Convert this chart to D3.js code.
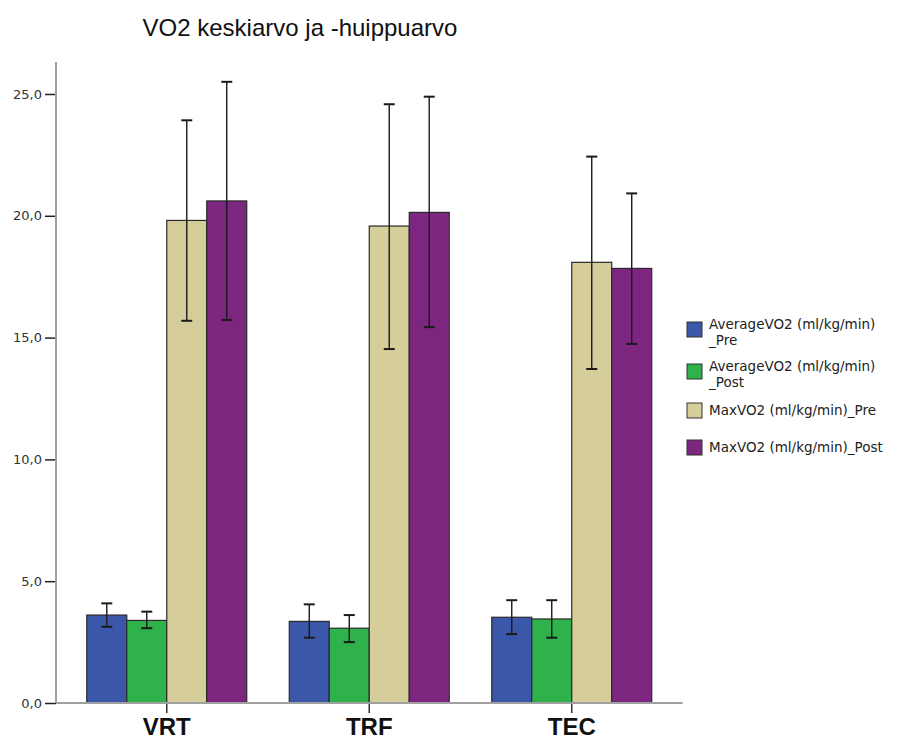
<!DOCTYPE html>
<html>
<head>
<meta charset="utf-8">
<script src="https://cdn.jsdelivr.net/npm/d3@7"></script>
<style>
  html, body { margin: 0; padding: 0; background: #fff; }
  svg { display: block; }
  text { font-family: "Liberation Sans", Arial, sans-serif; }
  text.small { font-family: "DejaVu Sans", sans-serif; }
</style>
</head>
<body>
<svg id="chart" width="902" height="740"></svg>
<script>
// Groups on the x axis
const categories = ["VRT", "TRF", "TEC"];

// Series names (legend lines) and fill colours
const seriesNames = [
  ["AverageVO2 (ml/kg/min)", "_Pre"],
  ["AverageVO2 (ml/kg/min)", "_Post"],
  ["MaxVO2 (ml/kg/min)_Pre"],
  ["MaxVO2 (ml/kg/min)_Post"]
];
const seriesColors = ["#3b57a9", "#2fb14b", "#d5ce9a", "#7d2680"];

// Means per series, one value per category (VRT, TRF, TEC)
const avgPre  = [3.61, 3.35, 3.52];
const avgPost = [3.39, 3.07, 3.45];
const maxPre  = [19.81, 19.58, 18.09];
const maxPost = [20.61, 20.14, 17.84];

// Error bar ends (lower, upper) per series and category
const avgPreLow   = [3.13, 2.68, 2.83];
const avgPreHigh  = [4.09, 4.05, 4.22];
const avgPostLow  = [3.07, 2.50, 2.68];
const avgPostHigh = [3.75, 3.61, 4.22];
const maxPreLow   = [15.69, 14.53, 13.71];
const maxPreHigh  = [23.92, 24.58, 22.43];
const maxPostLow  = [15.72, 15.43, 14.74];
const maxPostHigh = [25.50, 24.89, 20.92];

// Y axis ticks
const yTicks = [0, 5, 10, 15, 20, 25];

const means = [avgPre, avgPost, maxPre, maxPost];
const lows  = [avgPreLow, avgPostLow, maxPreLow, maxPostLow];
const highs = [avgPreHigh, avgPostHigh, maxPreHigh, maxPostHigh];

const rows = [];
categories.forEach((c, ci) => {
  means.forEach((s, si) => {
    rows.push({ cat: c, series: si, value: s[ci], low: lows[si][ci], high: highs[si][ci] });
  });
});

const svg = d3.select("#chart");

const plot = { left: 56, right: 682.5, top: 62, bottom: 703 };

const x = d3.scaleBand()
  .domain(categories)
  .range([plot.left, plot.right])
  .paddingInner(0.21)
  .paddingOuter(0.152);

const xs = d3.scaleBand()
  .domain(d3.range(seriesNames.length))
  .range([0, x.bandwidth()]);

const y = d3.scaleLinear()
  .domain([0, 25])
  .range([plot.bottom, plot.bottom - 25 * 24.36]);

// Title
svg.append("text")
  .attr("x", 300)
  .attr("y", 36)
  .attr("text-anchor", "middle")
  .attr("font-size", 24)
  .attr("fill", "#111")
  .text("VO2 keskiarvo ja -huippuarvo");

// Bars
const bars = svg.append("g");
bars.selectAll("rect")
  .data(rows)
  .join("rect")
  .attr("x", d => x(d.cat) + xs(d.series))
  .attr("y", d => y(d.value))
  .attr("width", xs.bandwidth())
  .attr("height", d => y(0) - y(d.value))
  .attr("fill", d => seriesColors[d.series])
  .attr("stroke", "#2a2a2a")
  .attr("stroke-width", 1.2);

// Y axis
const yAxis = d3.axisLeft(y)
  .tickValues(yTicks)
  .tickSize(11)
  .tickPadding(3)
  .tickFormat(d => d3.format(".1f")(d).replace(".", ","));

const yg = svg.append("g")
  .attr("transform", `translate(${plot.left},0)`)
  .call(yAxis);
yg.select(".domain").remove();
yg.selectAll(".tick line").attr("stroke", "#222").attr("stroke-width", 1.5);
yg.selectAll(".tick text")
  .classed("small", true)
  .attr("font-size", 13)
  .attr("fill", "#333");

svg.append("line")
  .attr("x1", plot.left).attr("x2", plot.left)
  .attr("y1", plot.top).attr("y2", plot.bottom)
  .attr("stroke", "#a0a0a0").attr("stroke-width", 2);

// X axis
const xAxis = d3.axisBottom(x).tickSize(10).tickPadding(5);
const xg = svg.append("g")
  .attr("transform", `translate(0,${plot.bottom})`)
  .call(xAxis);
xg.select(".domain").remove();
xg.selectAll(".tick line").attr("stroke", "#333").attr("stroke-width", 1.5);
xg.selectAll(".tick text")
  .attr("font-size", 24)
  .attr("font-weight", "bold")
  .attr("fill", "#111");

svg.append("line")
  .attr("x1", plot.left).attr("x2", plot.right)
  .attr("y1", plot.bottom).attr("y2", plot.bottom)
  .attr("stroke", "#a0a0a0").attr("stroke-width", 2);

// Error bars
const err = svg.append("g").attr("stroke", "#1a1a1a").attr("stroke-width", 1.4);
const cx = d => x(d.cat) + xs(d.series) + xs.bandwidth() / 2;
err.selectAll("line.v").data(rows).join("line").attr("class", "v")
  .attr("x1", cx).attr("x2", cx)
  .attr("y1", d => y(d.low)).attr("y2", d => y(d.high));
err.selectAll("line.t").data(rows).join("line").attr("class", "t")
  .attr("x1", d => cx(d) - 5.5).attr("x2", d => cx(d) + 5.5)
  .attr("y1", d => y(d.high)).attr("y2", d => y(d.high))
  .attr("stroke-width", 2);
err.selectAll("line.b").data(rows).join("line").attr("class", "b")
  .attr("x1", d => cx(d) - 5.5).attr("x2", d => cx(d) + 5.5)
  .attr("y1", d => y(d.low)).attr("y2", d => y(d.low))
  .attr("stroke-width", 2);

// Legend: swatch plus one text element per line
const legendTops = [322, 364, 403, 440];
const legendLineGap = 16;
const legend = svg.append("g");
seriesNames.forEach((lines, i) => {
  const g = legend.append("g").attr("transform", `translate(687,${legendTops[i]})`);
  g.append("rect")
    .attr("width", 15).attr("height", 15)
    .attr("fill", seriesColors[i])
    .attr("stroke", "#333").attr("stroke-width", 1);
  const firstY = lines.length > 1 ? 2 : 7.5;
  lines.forEach((ln, li) => {
    g.append("text")
      .attr("class", "small")
      .attr("x", 22)
      .attr("y", firstY + li * legendLineGap)
      .attr("dy", "0.36em")
      .attr("font-size", 13.5)
      .attr("fill", "#222")
      .text(ln);
  });
});
</script>
</body>
</html>
